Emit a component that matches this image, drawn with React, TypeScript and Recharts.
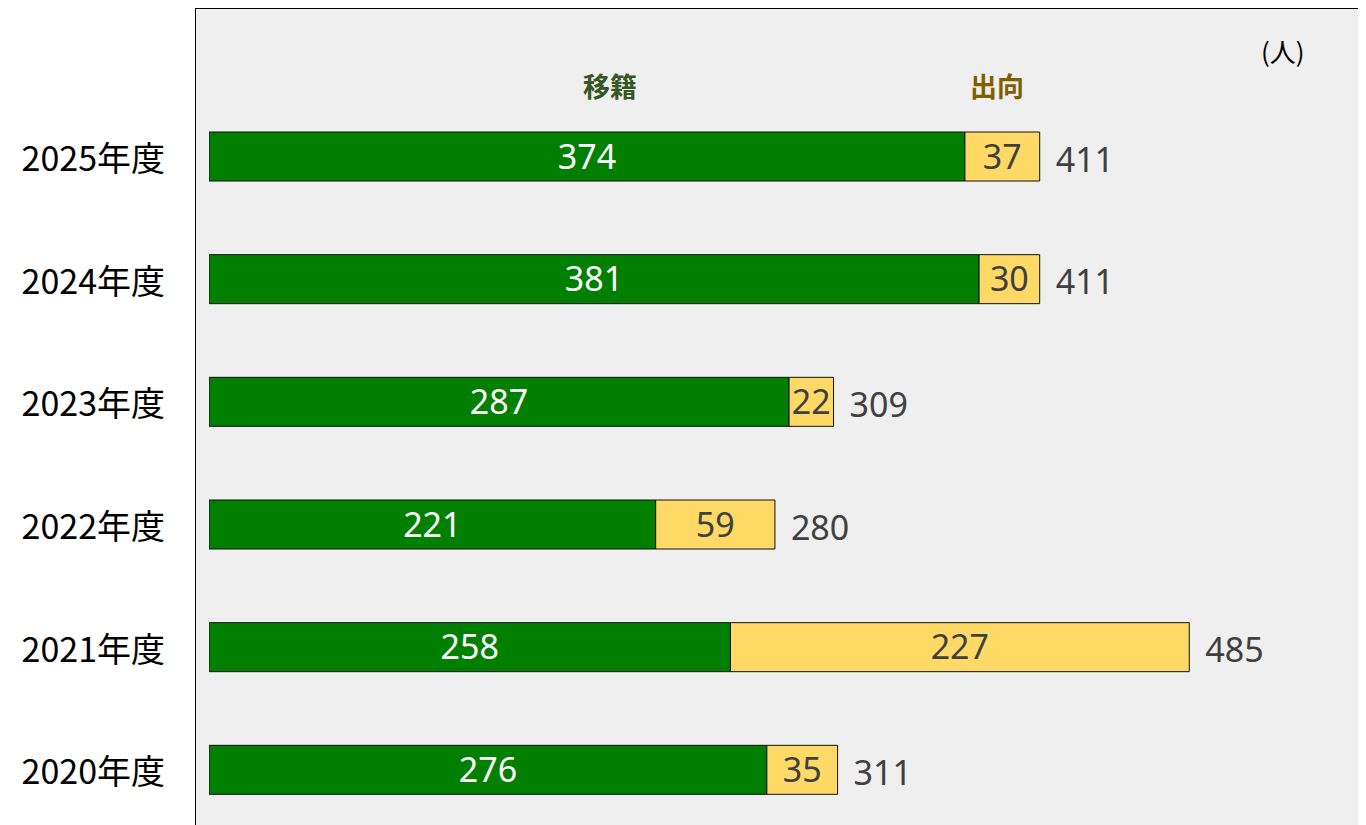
import React from "react";
import { BarChart, Bar, XAxis, YAxis, CartesianGrid, LabelList } from "recharts";

const years = ["2025年度", "2024年度", "2023年度", "2022年度", "2021年度", "2020年度"];
const transfer = [374, 381, 287, 221, 258, 276];
const secondment = [37, 30, 22, 59, 227, 35];
const totals = [411, 411, 309, 280, 485, 311];

const data = years.map((year, i) => ({
  year,
  transfer: transfer[i],
  secondment: secondment[i],
  total: totals[i],
}));

const NUM_FONT = "'Noto Sans', sans-serif";

const YearTick = (props: any) => {
  const { x, y, payload } = props;
  return (
    <text
      x={x}
      y={y}
      textAnchor="end"
      dominantBaseline="central"
      fontFamily="'Noto Sans CJK JP', sans-serif"
      fontSize={34}
      fill="#000"
    >
      {payload.value}
    </text>
  );
};

const TotalLabel = (props: any) => {
  const { x, y, width, height, value } = props;
  return (
    <text
      x={x + width + 16}
      y={y + height / 2 + 2}
      textAnchor="start"
      dominantBaseline="central"
      fontFamily={NUM_FONT}
      fontSize={34}
      fill="#404040"
    >
      {value}
    </text>
  );
};

export default function App() {
  return (
    <div style={{ position: "relative", width: 1366, height: 823 }}>
      <style>{"html,body{overflow:hidden}"}</style>
      <BarChart
        width={1366}
        height={823}
        data={data}
        layout="vertical"
        margin={{ top: 0, right: 0, bottom: 0, left: 0 }}
        barSize={49}
      >
        <CartesianGrid fill="#efefef" horizontal={false} vertical={false} />
        <XAxis
          type="number"
          orientation="top"
          domain={[0, 576.4]}
          height={0}
          tick={false}
          tickLine={false}
          axisLine={false}
          padding={{ left: 14, right: 0 }}
          allowDataOverflow
        />
        <YAxis
          type="category"
          dataKey="year"
          width={187}
          tickLine={false}
          axisLine={false}
          tick={<YearTick />}
          tickMargin={24}
          padding={{ top: 87, bottom: 0 }}
          interval={0}
        />
        <Bar dataKey="transfer" stackId="a" fill="#007f00" stroke="#111" strokeWidth={1} isAnimationActive={false}>
          <LabelList
            dataKey="transfer"
            position="center"
            fill="#fff"
            fontFamily={NUM_FONT}
            fontSize={34}
          />
        </Bar>
        <Bar dataKey="secondment" stackId="a" fill="#ffd966" stroke="#111" strokeWidth={1} isAnimationActive={false}>
          <LabelList
            dataKey="secondment"
            position="center"
            fill="#404040"
            fontFamily={NUM_FONT}
            fontSize={34}
          />
          <LabelList dataKey="total" content={<TotalLabel />} />
        </Bar>
      </BarChart>
      <div
        style={{
          position: "absolute",
          left: 187,
          top: 0,
          width: 1179,
          height: 823,
          borderTop: "1px solid #000",
          borderLeft: "1px solid #000",
          boxSizing: "border-box",
          pointerEvents: "none",
        }}
      />
      <div
        style={{
          position: "absolute",
          left: 575,
          top: 58,
          fontFamily: "'Noto Sans CJK JP', sans-serif",
          fontWeight: 700,
          fontSize: 27,
          color: "#375623",
        }}
      >
        移籍
      </div>
      <div
        style={{
          position: "absolute",
          left: 962,
          top: 58,
          fontFamily: "'Noto Sans CJK JP', sans-serif",
          fontWeight: 700,
          fontSize: 27,
          color: "#7f6000",
        }}
      >
        出向
      </div>
      <div
        style={{
          position: "absolute",
          left: 1253,
          top: 24,
          fontFamily: "'Noto Sans CJK JP', sans-serif",
          fontSize: 26,
          color: "#000",
        }}
      >
        (人)
      </div>
    </div>
  );
}
